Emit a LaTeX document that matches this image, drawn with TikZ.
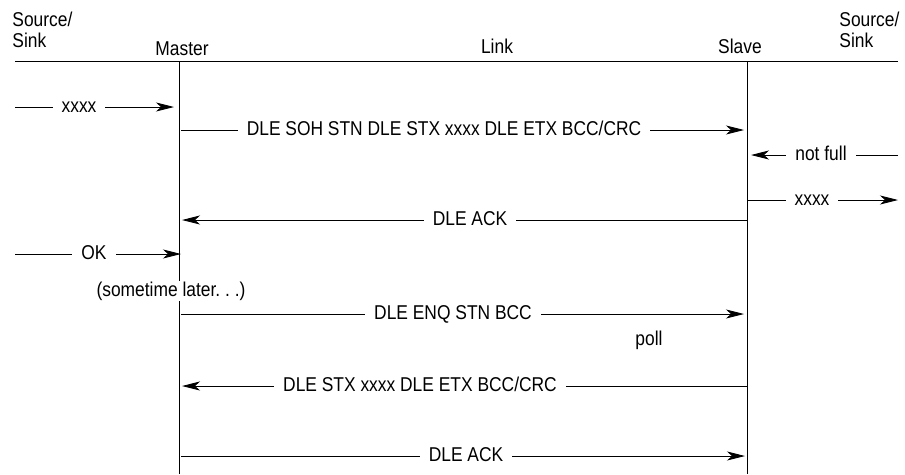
\documentclass[tikz,border=0pt]{standalone}
\usepackage{fontspec}
\setmainfont[FakeStretch=0.87]{Liberation Sans}
\usetikzlibrary{arrows.meta}

\begin{document}
\begin{tikzpicture}[x=1pt,y=-1pt,font=\fontsize{20}{21}\selectfont,line width=0.9pt,
  msg/.style={-{Stealth[length=18pt,width=9pt,inset=5pt]}},
  lbl/.style={fill=white,anchor=base,yshift=-5pt,inner xsep=9pt,inner ysep=1pt}]
\useasboundingbox (0,0) rectangle (905,474);
% headings
\node [align=left,anchor=south west,inner sep=0pt] (srcl) at (12,48) {Source/\\Sink};
\node [align=left,anchor=south west,inner sep=0pt] (srcr) at (839,48) {Source/\\Sink};
\node [anchor=base] (master) at (182,55) {Master};
\node [anchor=base] (link) at (497,53) {Link};
\node [anchor=base] (slave) at (740,53) {Slave};
% lifelines
\coordinate (tl) at (15,61);  \coordinate (tr) at (898,61);
\coordinate (mt) at (179,61); \coordinate (mb) at (179,474);
\coordinate (st) at (747,61); \coordinate (sb) at (747,474);
\draw (tl) -- (tr);
\draw (mt) -- (mb);
\draw (st) -- (sb);
% end points
\coordinate (a0) at (15,107);  \coordinate (a1) at (174,107);
\coordinate (b0) at (181,130); \coordinate (b1) at (744,130);
\coordinate (c0) at (898,155); \coordinate (c1) at (751,155);
\coordinate (d0) at (747,200); \coordinate (d1) at (898,200);
\coordinate (e0) at (747,220); \coordinate (e1) at (182,220);
\coordinate (f0) at (15,254);  \coordinate (f1) at (181,254);
\coordinate (g0) at (181,314); \coordinate (g1) at (744,314);
\coordinate (h0) at (747,386); \coordinate (h1) at (182,386);
\coordinate (k0) at (181,456); \coordinate (k1) at (745,456);
% messages
\draw [msg] (a0) -- (a1);
\node [lbl] (la) at (79,107) {xxxx};
\draw [msg] (b0) -- (b1);
\node [lbl] (lb) at (444,130) {DLE SOH STN DLE STX xxxx DLE ETX BCC/CRC};
\draw [msg] (c0) -- (c1);
\node [lbl] (lc) at (821,155) {not full};
\draw [msg] (d0) -- (d1);
\node [lbl] (ld) at (812,200) {xxxx};
\draw [msg] (e0) -- (e1);
\node [lbl] (le) at (470,220) {DLE ACK};
\draw [msg] (f0) -- (f1);
\node [lbl] (lf) at (94,254) {OK};
\node [anchor=base,fill=white,inner sep=1pt] (later) at (171,296) {(sometime later.\ .\ .)};
\draw [msg] (g0) -- (g1);
\node [lbl] (lg) at (453,314) {DLE ENQ STN BCC};
\node [anchor=base] (poll) at (649,345) {poll};
\draw [msg] (h0) -- (h1);
\node [lbl] (lh) at (420,386) {DLE STX xxxx DLE ETX BCC/CRC};
\draw [msg] (k0) -- (k1);
\node [lbl] (lk) at (466,456) {DLE ACK};
\end{tikzpicture}
\end{document}
